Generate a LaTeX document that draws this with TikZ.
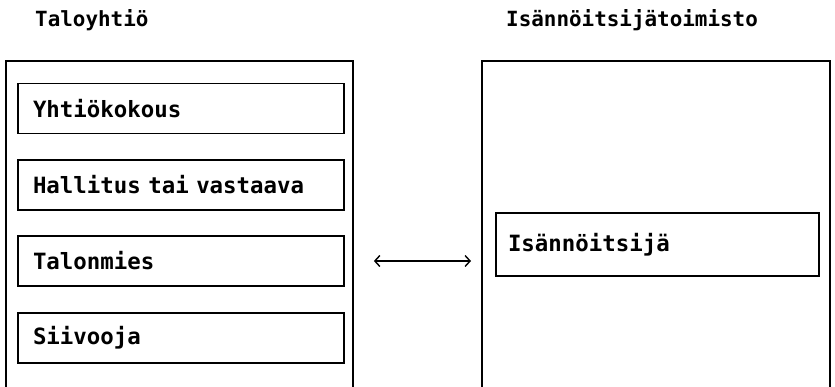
\documentclass[tikz,border=0pt]{standalone}
\usepackage{fontspec}
\setmonofont{DejaVu Sans Mono}
\usetikzlibrary{arrows.meta}
\newcommand{\txtfont}{\ttfamily\bfseries\fontsize{22.4}{27}\selectfont}
\newcommand{\ttlfont}{\ttfamily\bfseries\fontsize{20.9}{25}\selectfont}
\tikzset{
  x=1pt, y=-1pt,
  lbl/.style={font=\ttlfont, inner sep=0pt, anchor=base west},
  item/.style={draw, line width=1.8pt, rectangle, minimum width=324pt, minimum height=50pt,
    text width=296pt, align=left, inner xsep=15pt, inner ysep=0pt,
    font=\txtfont},
  frame/.style={line width=1.8pt},
  link/.style={line width=1.4pt, {Straight Barb[length=5pt,width=11pt]}-{Straight Barb[length=5pt,width=11pt]}}
}
\begin{document}
\begin{tikzpicture}
\useasboundingbox (0,0) rectangle (835,387);
\fill[white] (0,0) rectangle (835,387);
% titles
\node[lbl] (t1) at (35,27) {Taloyhtiö};
\node[lbl] (t2) at (506,27) {Isännöitsijätoimisto};
% outer frames (open at bottom)
\draw[frame] (6,390) -- (6,61) -- (353,61) -- (353,390);
\draw[frame] (482,390) -- (482,61) -- (830,61) -- (830,390);
% inner boxes
\node[item] (y) at (181,108.5) {Yhtiökokous};
\node[item] (h) at (181,185) {Hallitus tai vastaava};
\node[item] (ta) at (181,261) {Talonmies};
\node[item] (s) at (181,338) {Siivooja};
\node[item, minimum width=323pt, minimum height=63pt, inner xsep=12pt, text width=299pt] (i) at (657.5,244.5) {Isännöitsijä};
% connector
\coordinate (a1) at ([xshift=29pt]ta.east);
\coordinate (a2) at (471,261);
\draw[link] (a1) -- (a2);
\end{tikzpicture}
\end{document}
